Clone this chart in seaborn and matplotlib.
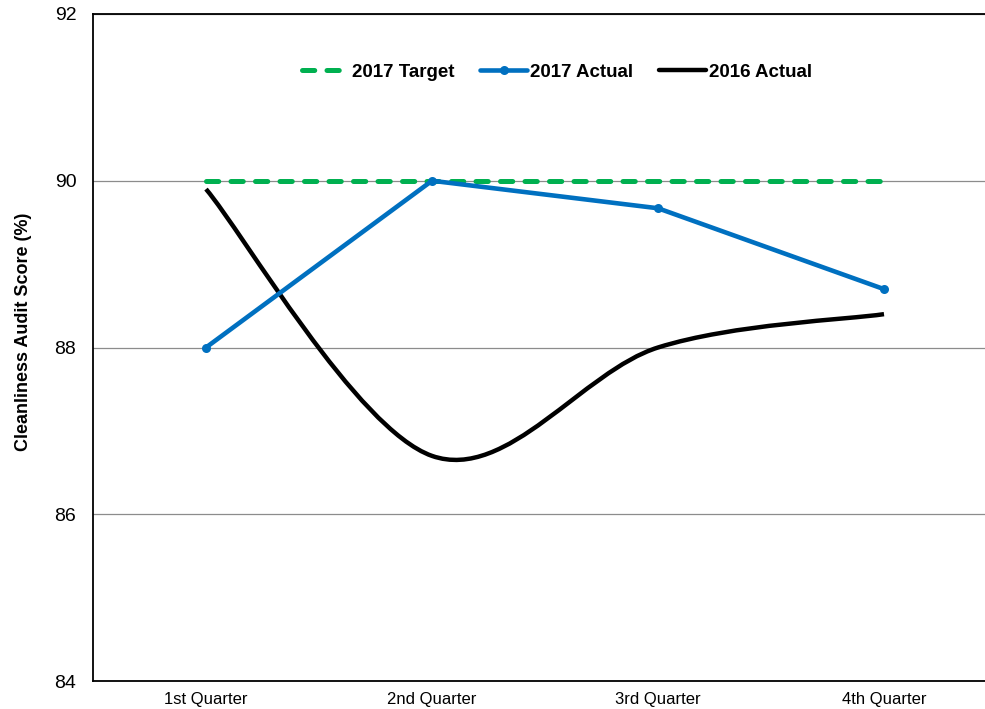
import numpy as np
import pandas as pd
import seaborn as sns
import matplotlib.pyplot as plt
from matplotlib.path import Path
from matplotlib.patches import PathPatch
from matplotlib.lines import Line2D

quarters = ['1st Quarter', '2nd Quarter', '3rd Quarter', '4th Quarter']
target_2017 = [90, 90, 90, 90]
actual_2017 = [88.0, 90.0, 89.67, 88.7]
actual_2016 = [89.9, 86.7, 88.0, 88.4]

sns.set_style('white')
plt.rcParams['font.family'] = ['Liberation Sans', 'DejaVu Sans']
plt.rcParams['text.color'] = 'black'
plt.rcParams['xtick.color'] = 'black'
plt.rcParams['ytick.color'] = 'black'
plt.rcParams['axes.labelcolor'] = 'black'

df = pd.DataFrame({'Quarter': quarters, 'Target': target_2017, 'A2017': actual_2017})
df['x'] = np.arange(len(quarters))

fig = plt.figure(figsize=(9.85, 7.09), dpi=100)
ax = fig.add_axes([93 / 985, 1 - 681 / 709, 904 / 985, 667 / 709])

green = '#00B050'
blue = '#0070C0'
dash = [2.45, 2.45]

sns.lineplot(data=df, x='x', y='Target', ax=ax, color=green, linewidth=3.6,
             dashes=False, zorder=3)
ax.lines[-1].set_dashes(dash)
ax.lines[-1].set_dash_capstyle('round')
sns.lineplot(data=df, x='x', y='A2017', ax=ax, color=blue, linewidth=3.3,
             marker='o', markersize=6.5, markeredgewidth=0, zorder=4)

# 2016 smoothed line (Excel style bezier through the points)
xs = df['x'].values.astype(float)
ys = np.array(actual_2016)
pts = np.column_stack([xs, ys])
verts = [pts[0]]
codes = [Path.MOVETO]
n = len(pts)
for i in range(n - 1):
    p0 = pts[i - 1] if i > 0 else pts[i]
    p3 = pts[i + 2] if i + 2 < n else pts[i + 1]
    c1 = pts[i] + (pts[i + 1] - p0) / 6
    c2 = pts[i + 1] - (p3 - pts[i]) / 6
    verts += [c1, c2, pts[i + 1]]
    codes += [Path.CURVE4] * 3
ax.add_patch(PathPatch(Path(verts, codes), facecolor='none', edgecolor='black',
                       linewidth=3.2, zorder=3, capstyle='butt'))

ax.set_xlim(-0.5, 3.5)
ax.set_ylim(84, 92)
ax.set_yticks([84, 86, 88, 90, 92])
ax.set_xticks(df['x'])
ax.set_xticklabels(quarters, fontsize=12)
ax.tick_params(axis='y', labelsize=14, length=0, pad=12)
ax.tick_params(axis='x', length=0, pad=8)
ax.set_xlabel('')
ax.set_ylabel('Cleanliness Audit Score (%)', fontsize=13, fontweight='bold')
ax.yaxis.set_label_coords((32 - 93) / 904, 1 - (332 - 14) / 667)
ax.yaxis.grid(True, color='#8c8c8c', linewidth=0.9)
ax.set_axisbelow(True)
for s in ['left', 'bottom', 'top']:
    ax.spines[s].set_color('black')
    ax.spines[s].set_linewidth(1.3)
ax.spines['right'].set_visible(False)

handles = [
    Line2D([], [], color=green, linewidth=3.6, dashes=dash, dash_capstyle='round'),
    Line2D([], [], color=blue, linewidth=3.3, marker='o', markersize=6.5, markeredgewidth=0),
    Line2D([], [], color='black', linewidth=3.2),
]
ax.legend(handles, ['2017 Target', '2017 Actual', '2016 Actual'], ncol=3,
          loc='center', bbox_to_anchor=((557 - 93) / 904, 1 - (72 - 14) / 667),
          frameon=False, prop={'weight': 'bold', 'size': 13.5},
          handlelength=2.5, handletextpad=0.15, columnspacing=1.4)

fig.savefig('out.png', dpi=100)
